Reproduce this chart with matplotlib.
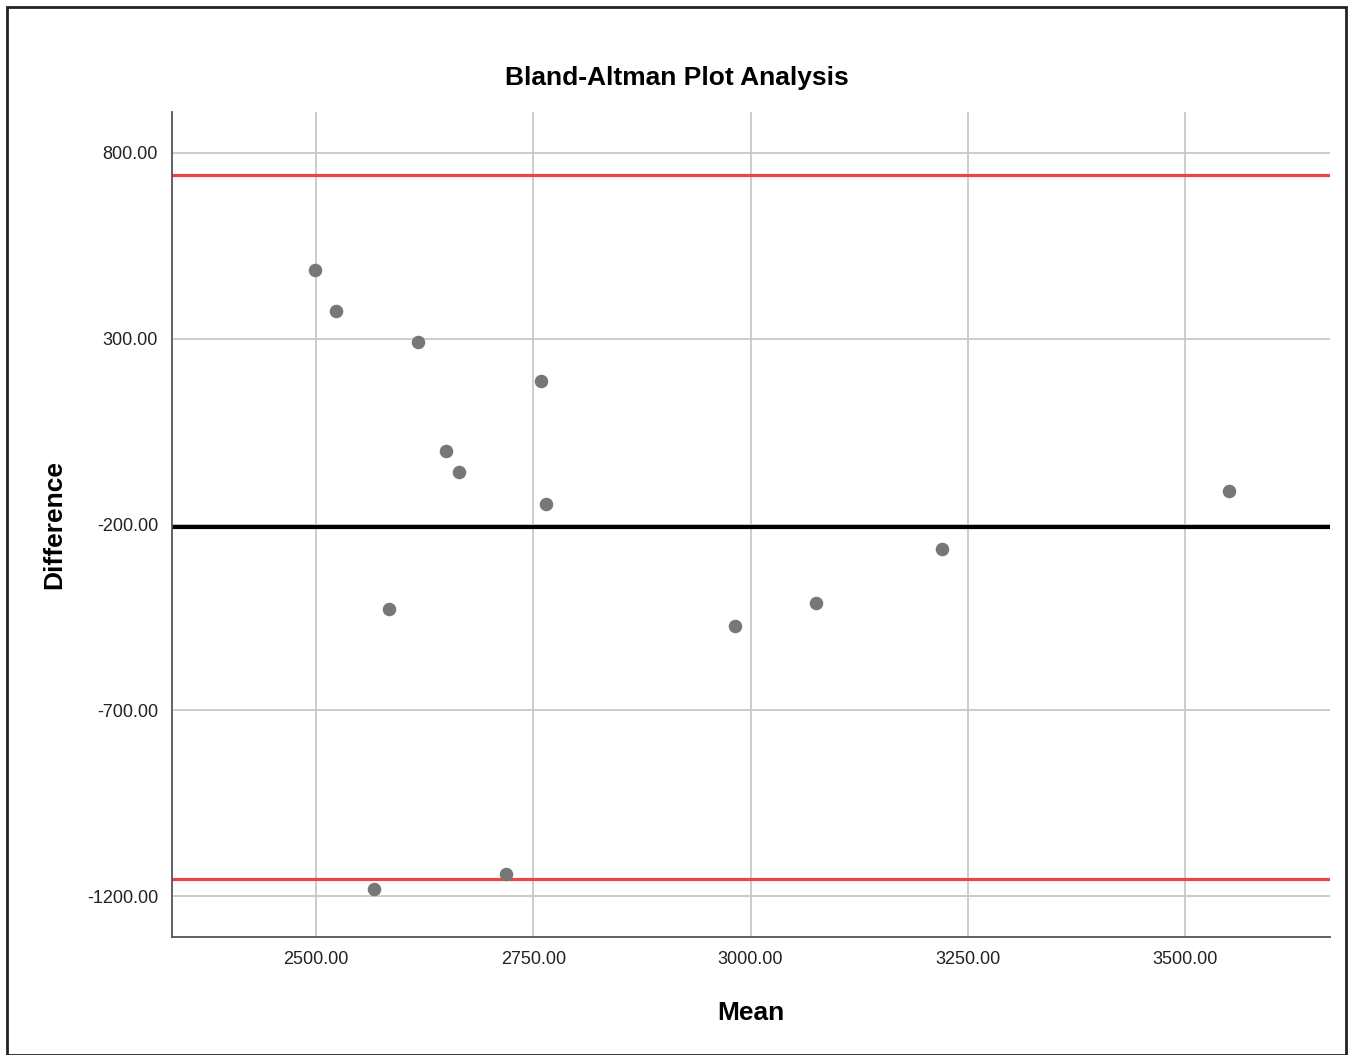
import matplotlib.pyplot as plt
from matplotlib.patches import Rectangle

plt.rcParams['font.family'] = ['Liberation Sans', 'DejaVu Sans']

# values
mean_vals = [2499, 2523, 2617, 2759, 2650, 2664, 2764, 2584, 2567, 2718,
             2982, 3075, 3220, 3551]
diff_vals = [485, 375, 292, 187, -1, -58, -146, -428, -1181, -1141,
             -474, -410, -267, -111]
mean_diff = -206
upper_loa = 741
lower_loa = -1154
x_ticks = [2500, 2750, 3000, 3250, 3500]
y_ticks = [-1200, -700, -200, 300, 800]

fig = plt.figure(figsize=(13.53, 10.55), dpi=100)
fig.patches.append(Rectangle((0.005, 0.0), 0.99, 0.993, transform=fig.transFigure,
                             fill=False, edgecolor='#222222', linewidth=2))

ax = fig.add_axes([0.1271, 0.1118, 0.8559, 0.782])
ax.set_xlim(2334, 3667)
ax.set_ylim(-1310, 910)

ax.grid(True, color='#c8c8c8', linewidth=1.3)
ax.set_axisbelow(True)

ax.axhline(upper_loa, color='#e8474a', linewidth=2.3, zorder=2)
ax.axhline(lower_loa, color='#e8474a', linewidth=2.3, zorder=2)
ax.axhline(mean_diff, color='black', linewidth=3.0, zorder=2)

ax.scatter(mean_vals, diff_vals, s=95, color='#777777', zorder=3, linewidths=0)

ax.set_xticks(x_ticks)
ax.set_xticklabels([f'{v:.2f}' for v in x_ticks])
ax.set_yticks(y_ticks)
ax.set_yticklabels([f'{v:.2f}' for v in y_ticks])
ax.tick_params(length=0, labelsize=13, labelcolor='#222222', pad=10)

for side in ['top', 'right']:
    ax.spines[side].set_visible(False)
for side in ['left', 'bottom']:
    ax.spines[side].set_color('#555555')
    ax.spines[side].set_linewidth(1.3)

# title is centred on the figure, not on the axes
fig.text(0.5, 0.926, 'Bland-Altman Plot Analysis', fontsize=19, fontweight='bold',
         ha='center', va='center')
ax.set_xlabel('Mean', fontsize=19, fontweight='bold', labelpad=24)
ax.set_ylabel('Difference', fontsize=19, fontweight='bold', labelpad=15)

fig.savefig('out.png', dpi=100)
